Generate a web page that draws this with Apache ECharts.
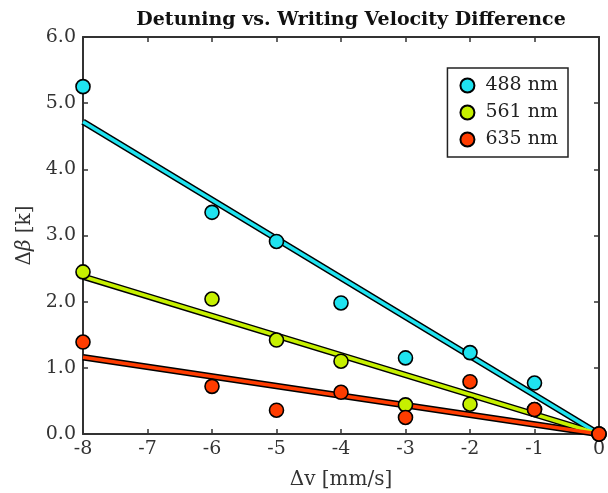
<!DOCTYPE html>
<html>
<head>
<meta charset="utf-8">
<script src="https://cdn.jsdelivr.net/npm/echarts@6/dist/echarts.min.js"></script>
</head>
<body style="margin:0">
<div id="main" style="width:608px;height:493px"></div>
<script>
var dv = [-8, -6, -5, -4, -3, -2, -1, 0];
var b488 = [5.25, 3.35, 2.91, 1.98, 1.15, 1.23, 0.77, 0];
var b561 = [2.45, 2.04, 1.42, 1.10, 0.44, 0.45, 0.37, 0];
var b635 = [1.39, 0.72, 0.36, 0.63, 0.25, 0.79, 0.37, 0];
// fitted lines, endpoints at dv=-8 and dv=0
var fitX = [-8, 0];
var fit488 = [4.72, 0];
var fit561 = [2.38, 0];
var fit635 = [1.16, 0];

var names = ['488 nm', '561 nm', '635 nm'];
var colors = ['#1fe3f0', '#c6f000', '#ff3c00'];
var font = 'DejaVu Serif';

function pts(ys) { return dv.map(function (x, i) { return [x, ys[i]]; }); }
function fit(ys) { return fitX.map(function (x, i) { return [x, ys[i]]; }); }

var series = [];
[fit488, fit561, fit635].forEach(function (f, i) {
  series.push({ type: 'line', data: fit(f), symbol: 'none', silent: true, z: 2,
    lineStyle: { color: '#000', width: 6.5 } });
  series.push({ type: 'line', data: fit(f), symbol: 'none', silent: true, z: 3,
    lineStyle: { color: colors[i], width: 3.5 } });
});
[b488, b561, b635].forEach(function (b, i) {
  series.push({ name: names[i], type: 'scatter', data: pts(b), symbolSize: 14, z: 5,
    itemStyle: { color: colors[i], borderColor: '#000', borderWidth: 1.6, opacity: 1 } });
});

var axisLine = { show: true, onZero: false, lineStyle: { color: '#333', width: 2 } };
var tick = { show: true, inside: true, length: 5, lineStyle: { color: '#333', width: 1.5 } };

var chart = echarts.init(document.getElementById('main'));
chart.setOption({
  animation: false,
  title: {
    text: 'Detuning vs. Writing Velocity Difference',
    left: 346, top: 6, textAlign: 'center',
    textStyle: { fontFamily: font, fontWeight: 'bold', fontSize: 19, color: '#111' }
  },
  legend: {
    right: 40, top: 68, orient: 'vertical',
    data: names,
    itemWidth: 14, itemHeight: 14, itemGap: 8,
    padding: [8, 10, 8, 12],
    borderColor: '#222', borderWidth: 1.5, backgroundColor: '#fff',
    textStyle: { fontFamily: font, fontSize: 19, color: '#222', padding: [0, 0, 0, 6] }
  },
  grid: { left: 83, right: 9, top: 37, bottom: 59, outerBoundsMode: 'none', containLabel: false },
  xAxis: [{
    type: 'value', min: -8, max: 0, interval: 1,
    name: 'Δv [mm/s]', nameLocation: 'middle', nameGap: 36,
    nameTextStyle: { fontFamily: font, fontSize: 20, color: '#333' },
    axisLine: axisLine, axisTick: tick, splitLine: { show: false },
    axisLabel: { fontFamily: font, fontSize: 19, color: '#333', margin: 6 }
  }, {
    type: 'value', min: -8, max: 0, interval: 1, position: 'top',
    axisLine: axisLine, axisTick: tick, splitLine: { show: false },
    axisLabel: { show: false }
  }],
  yAxis: [{
    type: 'value', min: 0, max: 6, interval: 1,
    name: '{a|Δ}{b|β}{a| [k]}', nameLocation: 'middle', nameGap: 48, nameRotate: 90,
    nameTextStyle: { rich: {
      a: { fontFamily: font, fontSize: 20, color: '#333' },
      b: { fontFamily: font, fontSize: 20, fontStyle: 'italic', color: '#333' }
    } },
    axisLine: axisLine, axisTick: tick, splitLine: { show: false },
    axisLabel: { fontFamily: font, fontSize: 19, color: '#333', margin: 7,
      formatter: function (v) { return v.toFixed(1); } }
  }, {
    type: 'value', min: 0, max: 6, interval: 1, position: 'right',
    axisLine: axisLine, axisTick: tick, splitLine: { show: false },
    axisLabel: { show: false }
  }],
  series: series
});
</script>
</body>
</html>
